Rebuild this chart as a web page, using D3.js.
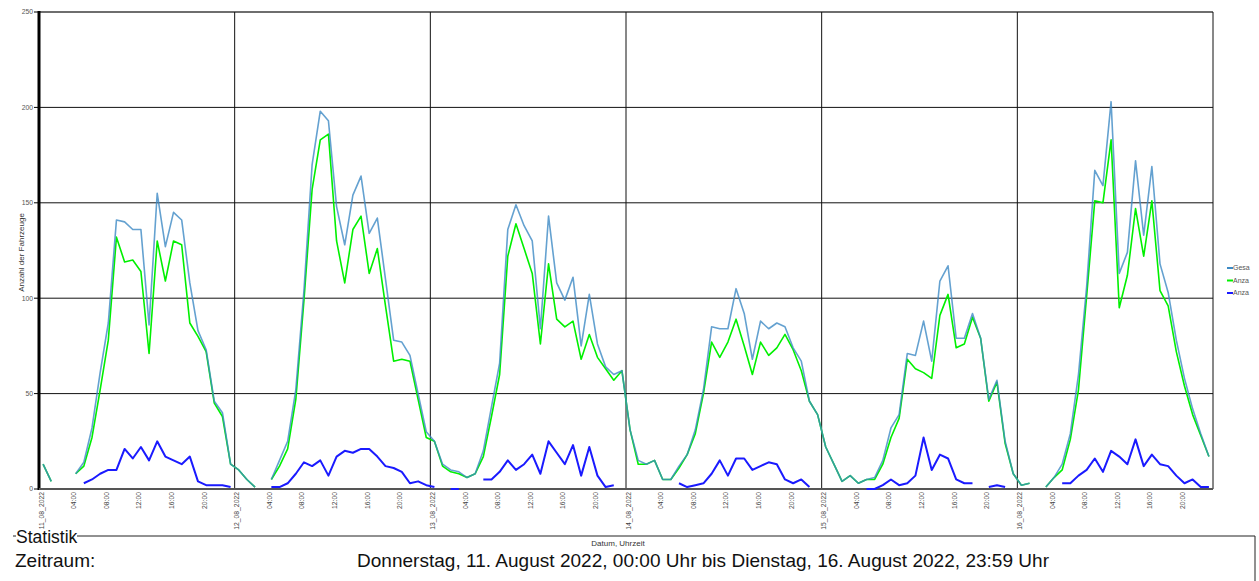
<!DOCTYPE html>
<html>
<head>
<meta charset="utf-8">
<script src="https://cdn.jsdelivr.net/npm/d3@7"></script>
<style>
  body { margin: 0; background: #fff; }
  svg { display: block; font-family: "Liberation Sans", Arial, sans-serif; }
</style>
</head>
<body>
<script>
// day labels and hour tick labels
const days = ["11_08_2022", "12_08_2022", "13_08_2022", "14_08_2022", "15_08_2022", "16_08_2022"];
const hourTicks = [4, 8, 12, 16, 20];
const hourLabels = ["04:00", "08:00", "12:00", "16:00", "20:00"];
const yTicks = [0, 50, 100, 150, 200, 250];
const seriesNames = ["Gesa", "Anza", "Anza"];

// hourly values, one row per day (null = no data)
const gesamt = [
  13, 4, null, null, 8, 14, 32, 61, 87, 141, 140, 136, 136, 86, 155, 127, 145, 141, 108, 83, 73, 46, 40, 13,
  10, 5, 1, null, 5, 15, 25, 52, 104, 170, 198, 193, 148, 128, 154, 164, 134, 142, 110, 78, 77, 70, 50, 30,
  25, 13, 10, 9, 6, 8, 20, 43, 66, 136, 149, 138, 130, 84, 143, 108, 99, 111, 75, 102, 76, 64, 60, 62,
  31, 15, 13, 15, 5, 5, 12, 18, 31, 52, 85, 84, 84, 105, 92, 68, 88, 84, 87, 85, 74, 67, 46, 39,
  22, 13, 4, 7, 3, 5, 6, 15, 32, 39, 71, 70, 88, 67, 109, 117, 79, 79, 92, 79, 47, 57, 25, 8,
  2, 3, null, 1, 6, 13, 29, 60, 106, 167, 159, 203, 113, 124, 172, 133, 169, 118, 103, 78, 58, 42, 29, 17
];
const anzahlA = [
  13, 4, null, null, 8, 12, 27, 52, 78, 132, 119, 120, 114, 71, 130, 109, 130, 128, 87, 80, 72, 45, 38, 13,
  10, 5, 1, null, 5, 12, 21, 47, 99, 157, 183, 186, 130, 108, 136, 143, 113, 126, 96, 67, 68, 67, 47, 27,
  25, 12, 9, 8, 6, 8, 17, 38, 60, 122, 139, 126, 113, 76, 118, 89, 85, 88, 68, 81, 69, 63, 57, 62,
  31, 13, 13, 15, 5, 5, 11, 18, 29, 50, 77, 69, 77, 89, 75, 60, 77, 70, 74, 81, 73, 62, 46, 39,
  22, 13, 4, 7, 3, 5, 5, 13, 27, 37, 68, 63, 61, 58, 91, 102, 74, 76, 90, 79, 46, 56, 24, 8,
  2, 3, null, 1, 6, 10, 26, 52, 101, 151, 150, 183, 95, 112, 147, 122, 151, 104, 96, 72, 54, 39, 28, 17
];
const anzahlB = [
  null, null, null, null, null, 3, 5, 8, 10, 10, 21, 16, 22, 15, 25, 17, 15, 13, 17, 4, 2, 2, 2, 1,
  null, null, null, null, 1, 1, 3, 8, 14, 12, 15, 7, 17, 20, 19, 21, 21, 17, 12, 11, 9, 3, 4, 2,
  1, null, 0, 0, null, null, 5, 5, 9, 15, 10, 13, 18, 8, 25, 19, 13, 23, 7, 22, 7, 1, 2, null,
  null, null, null, null, null, null, 3, 1, 2, 3, 8, 15, 7, 16, 16, 10, 12, 14, 13, 5, 3, 5, 1, null,
  null, null, null, null, null, 0, 0, 2, 5, 2, 3, 7, 27, 10, 18, 16, 5, 3, 3, null, 1, 2, 1, null,
  null, null, null, null, null, 3, 3, 7, 10, 16, 9, 20, 17, 13, 26, 12, 18, 13, 12, 7, 3, 5, 1, 1
];

const colors = ["#3d8ac4", "#00f000", "#1a1aff"];

const width = 1259, height = 581;
const margin = {top: 12, left: 39, right: 46, bottom: 92};
const plotBottom = height - margin.bottom;   // 489
const plotRight = width - margin.right;      // 1213

const svg = d3.select("body").append("svg")
  .attr("width", width)
  .attr("height", height);

const x = d3.scaleLinear().domain([0, days.length * 24]).range([margin.left, plotRight]);
const y = d3.scaleLinear().domain([0, 250]).range([plotBottom, margin.top]);

// horizontal grid
svg.append("g").selectAll("line").data(yTicks.filter(v => v > 0 && v < 250))
  .join("line")
  .attr("x1", margin.left).attr("x2", plotRight)
  .attr("y1", d => y(d)).attr("y2", d => y(d))
  .attr("stroke", "#111").attr("stroke-width", 1);

svg.append("line")
  .attr("x1", margin.left).attr("x2", plotRight)
  .attr("y1", y(250)).attr("y2", y(250))
  .attr("stroke", "#6e6e6e").attr("stroke-width", 2);

// day separators + right edge
svg.append("g").selectAll("line").data(d3.range(1, days.length + 1))
  .join("line")
  .attr("x1", d => x(d * 24)).attr("x2", d => x(d * 24))
  .attr("y1", y(250)).attr("y2", y(0))
  .attr("stroke", "#111").attr("stroke-width", 1);

// y axis
svg.append("line")
  .attr("x1", margin.left).attr("x2", margin.left)
  .attr("y1", y(250) - 1).attr("y2", y(0) + 1)
  .attr("stroke", "#000").attr("stroke-width", 3);

svg.append("line")
  .attr("x1", margin.left).attr("x2", plotRight)
  .attr("y1", y(0)).attr("y2", y(0))
  .attr("stroke", "#555").attr("stroke-width", 2);

const yt = svg.append("g").selectAll("g").data(yTicks).join("g")
  .attr("transform", d => `translate(${margin.left},${y(d)})`);
yt.append("line").attr("x1", -5).attr("x2", 0).attr("stroke", "#000");
yt.append("text")
  .attr("x", -6).attr("dy", "0.35em")
  .attr("text-anchor", "end")
  .attr("font-size", 6.8).attr("fill", "#555")
  .text(d => d);

svg.append("text")
  .attr("transform", `translate(24,${(y(250) + y(0)) / 2 + 2}) rotate(-90)`)
  .attr("text-anchor", "middle")
  .attr("font-size", 8).attr("fill", "#333")
  .text("Anzahl der Fahrzeuge");

// x tick labels
const xTicks = [];
days.forEach((d, i) => {
  xTicks.push({pos: i * 24, label: d});
  hourTicks.forEach((h, k) => xTicks.push({pos: i * 24 + h, label: hourLabels[k]}));
});
svg.append("g").selectAll("text").data(xTicks).join("text")
  .attr("transform", d => `translate(${x(d.pos) + 4.6},${plotBottom + 3}) rotate(-90)`)
  .attr("text-anchor", "end")
  .attr("font-size", 6.8).attr("fill", "#444")
  .text(d => d.label);

svg.append("text")
  .attr("x", 618).attr("y", 546)
  .attr("text-anchor", "middle")
  .attr("font-size", 8).attr("fill", "#333")
  .text("Datum, Uhrzeit");

// series lines
const line = d3.line()
  .defined(d => d != null)
  .x((d, i) => x(i + 0.5))
  .y(d => y(d));

const series = [anzahlA, gesamt, anzahlB];
const seriesColor = [colors[1], colors[0], colors[2]];
const seriesWidth = [1.6, 1.6, 2];
const seriesOpacity = [1, 0.8, 1];
svg.append("g").selectAll("path").data(series).join("path")
  .attr("d", d => line(d))
  .attr("fill", "none")
  .attr("stroke", (d, i) => seriesColor[i])
  .attr("stroke-width", (d, i) => seriesWidth[i])
  .attr("stroke-opacity", (d, i) => seriesOpacity[i])
  .attr("stroke-linejoin", "round");

// legend
const lg = svg.append("g").selectAll("g").data(seriesNames).join("g")
  .attr("transform", (d, i) => `translate(1227,${268 + i * 12.5})`);
lg.append("line").attr("x1", 0).attr("x2", 6)
  .attr("stroke", (d, i) => colors[i]).attr("stroke-width", 2);
lg.append("text").attr("x", 6).attr("dy", "0.35em")
  .attr("font-size", 7).attr("fill", "#555")
  .text(d => d);

// Statistik box
const boxY = 536;
svg.append("path")
  .attr("d", `M13,${boxY}H16M77,${boxY}H1255V${height}`)
  .attr("fill", "none").attr("stroke", "#222").attr("stroke-width", 1);
svg.append("text")
  .attr("x", 16).attr("y", boxY + 6.5)
  .attr("font-size", 17.5).attr("fill", "#111")
  .text("Statistik");
svg.append("text")
  .attr("x", 15).attr("y", 567)
  .attr("font-size", 19).attr("fill", "#111")
  .text("Zeitraum:");
svg.append("text")
  .attr("x", 357).attr("y", 567)
  .attr("font-size", 19).attr("fill", "#111")
  .attr("textLength", 692)
  .text("Donnerstag, 11. August 2022, 00:00 Uhr bis Dienstag, 16. August 2022, 23:59 Uhr");
</script>
</body>
</html>
